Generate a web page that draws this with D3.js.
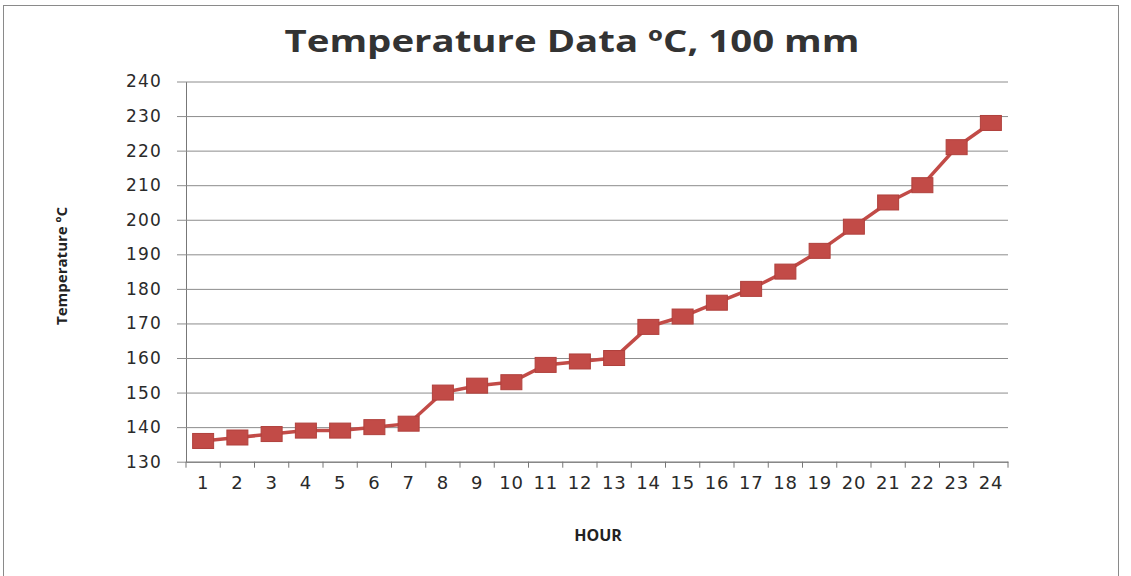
<!DOCTYPE html>
<html>
<head>
<meta charset="utf-8">
<script src="https://cdn.jsdelivr.net/npm/d3@7"></script>
<style>
  body { margin: 0; background: #fff; }
  svg { display: block; }
</style>
</head>
<body>
<div id="viz"></div>
<script>
// hours on the x axis and temperature readings (ºC) at 100 mm
var hours = ["1","2","3","4","5","6","7","8","9","10","11","12",
             "13","14","15","16","17","18","19","20","21","22","23","24"];
var temps = [136,137,138,139,139,140,141,150,152,153,158,159,
             160,169,172,176,180,185,191,198,205,210,221,228];
var yTicks = [130,140,150,160,170,180,190,200,210,220,230,240];

var W = 1131, H = 576;
var plotLeft = 186, plotRight = 1008, plotTop = 81.5, plotBottom = 461.7;
var red = "#c24b47";

var svg = d3.select("#viz").append("svg")
    .attr("width", W).attr("height", H);

// outer chart frame
svg.append("rect")
    .attr("x", 3.5).attr("y", 5.5)
    .attr("width", 1115).attr("height", 600)
    .attr("fill", "#fff").attr("stroke", "#8a8a8a").attr("stroke-width", 1);

var x = d3.scaleBand().domain(hours).range([plotLeft, plotRight]);
var y = d3.scaleLinear().domain([130, 240]).range([plotBottom, plotTop]);

// gridlines + y labels
var yAxis = d3.axisLeft(y).tickValues(yTicks)
    .tickSize(-(plotRight - plotLeft)).tickSizeOuter(0);
var gy = svg.append("g").attr("transform", "translate(" + plotLeft + ",0)").call(yAxis);
gy.select(".domain").attr("stroke", "#777");
gy.selectAll(".tick line").attr("stroke", "#8c8c8c").attr("x1", -9);
gy.selectAll(".tick text")
    .attr("font-family", "DejaVu Sans, sans-serif").attr("font-size", 17)
    .attr("letter-spacing", 1.2)
    .attr("fill", "#2a2a2a").attr("x", -24);

// x axis with ticks between categories
var gx = svg.append("g").attr("transform", "translate(0," + plotBottom + ")")
    .call(d3.axisBottom(x).tickSize(0).tickPadding(15));
gx.select(".domain").attr("stroke", "#777");
gx.selectAll(".tick text")
    .attr("font-family", "DejaVu Sans, sans-serif").attr("font-size", 18)
    .attr("letter-spacing", 0.6)
    .attr("fill", "#2a2a2a");
svg.append("g").selectAll("line")
    .data(hours.concat(["end"]))
    .join("line")
    .attr("x1", function(d, i) { return plotLeft + i * x.bandwidth(); })
    .attr("x2", function(d, i) { return plotLeft + i * x.bandwidth(); })
    .attr("y1", plotBottom).attr("y2", plotBottom + 6)
    .attr("stroke", "#777");

// series line
var line = d3.line()
    .x(function(d, i) { return x(hours[i]) + x.bandwidth() / 2; })
    .y(function(d) { return y(d); });
svg.append("path").datum(temps)
    .attr("d", line)
    .attr("fill", "none").attr("stroke", red).attr("stroke-width", 3.5);

// square markers
svg.append("g").selectAll("rect")
    .data(temps)
    .join("rect")
    .attr("x", function(d, i) { return x(hours[i]) + x.bandwidth() / 2 - 10.5; })
    .attr("y", function(d) { return y(d) - 7.5; })
    .attr("width", 21).attr("height", 15)
    .attr("fill", red).attr("stroke", "#b0403c").attr("stroke-width", 1);

// titles
svg.append("text")
    .attr("x", 572).attr("y", 52)
    .attr("text-anchor", "middle")
    .attr("font-family", "Open Sans, sans-serif").attr("font-weight", "bold")
    .attr("font-size", 31).attr("fill", "#333")
    .attr("textLength", 575).attr("lengthAdjust", "spacingAndGlyphs")
    .text("Temperature Data ºC, 100 mm");

svg.append("text")
    .attr("transform", "translate(67,266) rotate(-90)")
    .attr("text-anchor", "middle")
    .attr("font-family", "Open Sans, sans-serif").attr("font-weight", "bold")
    .attr("font-size", 15).attr("fill", "#222")
    .attr("textLength", 118).attr("lengthAdjust", "spacingAndGlyphs")
    .text("Temperature ºC");

svg.append("text")
    .attr("x", 598).attr("y", 541)
    .attr("text-anchor", "middle")
    .attr("font-family", "Open Sans, sans-serif").attr("font-weight", "bold")
    .attr("font-size", 16).attr("fill", "#222")
    .text("HOUR");
</script>
</body>
</html>
